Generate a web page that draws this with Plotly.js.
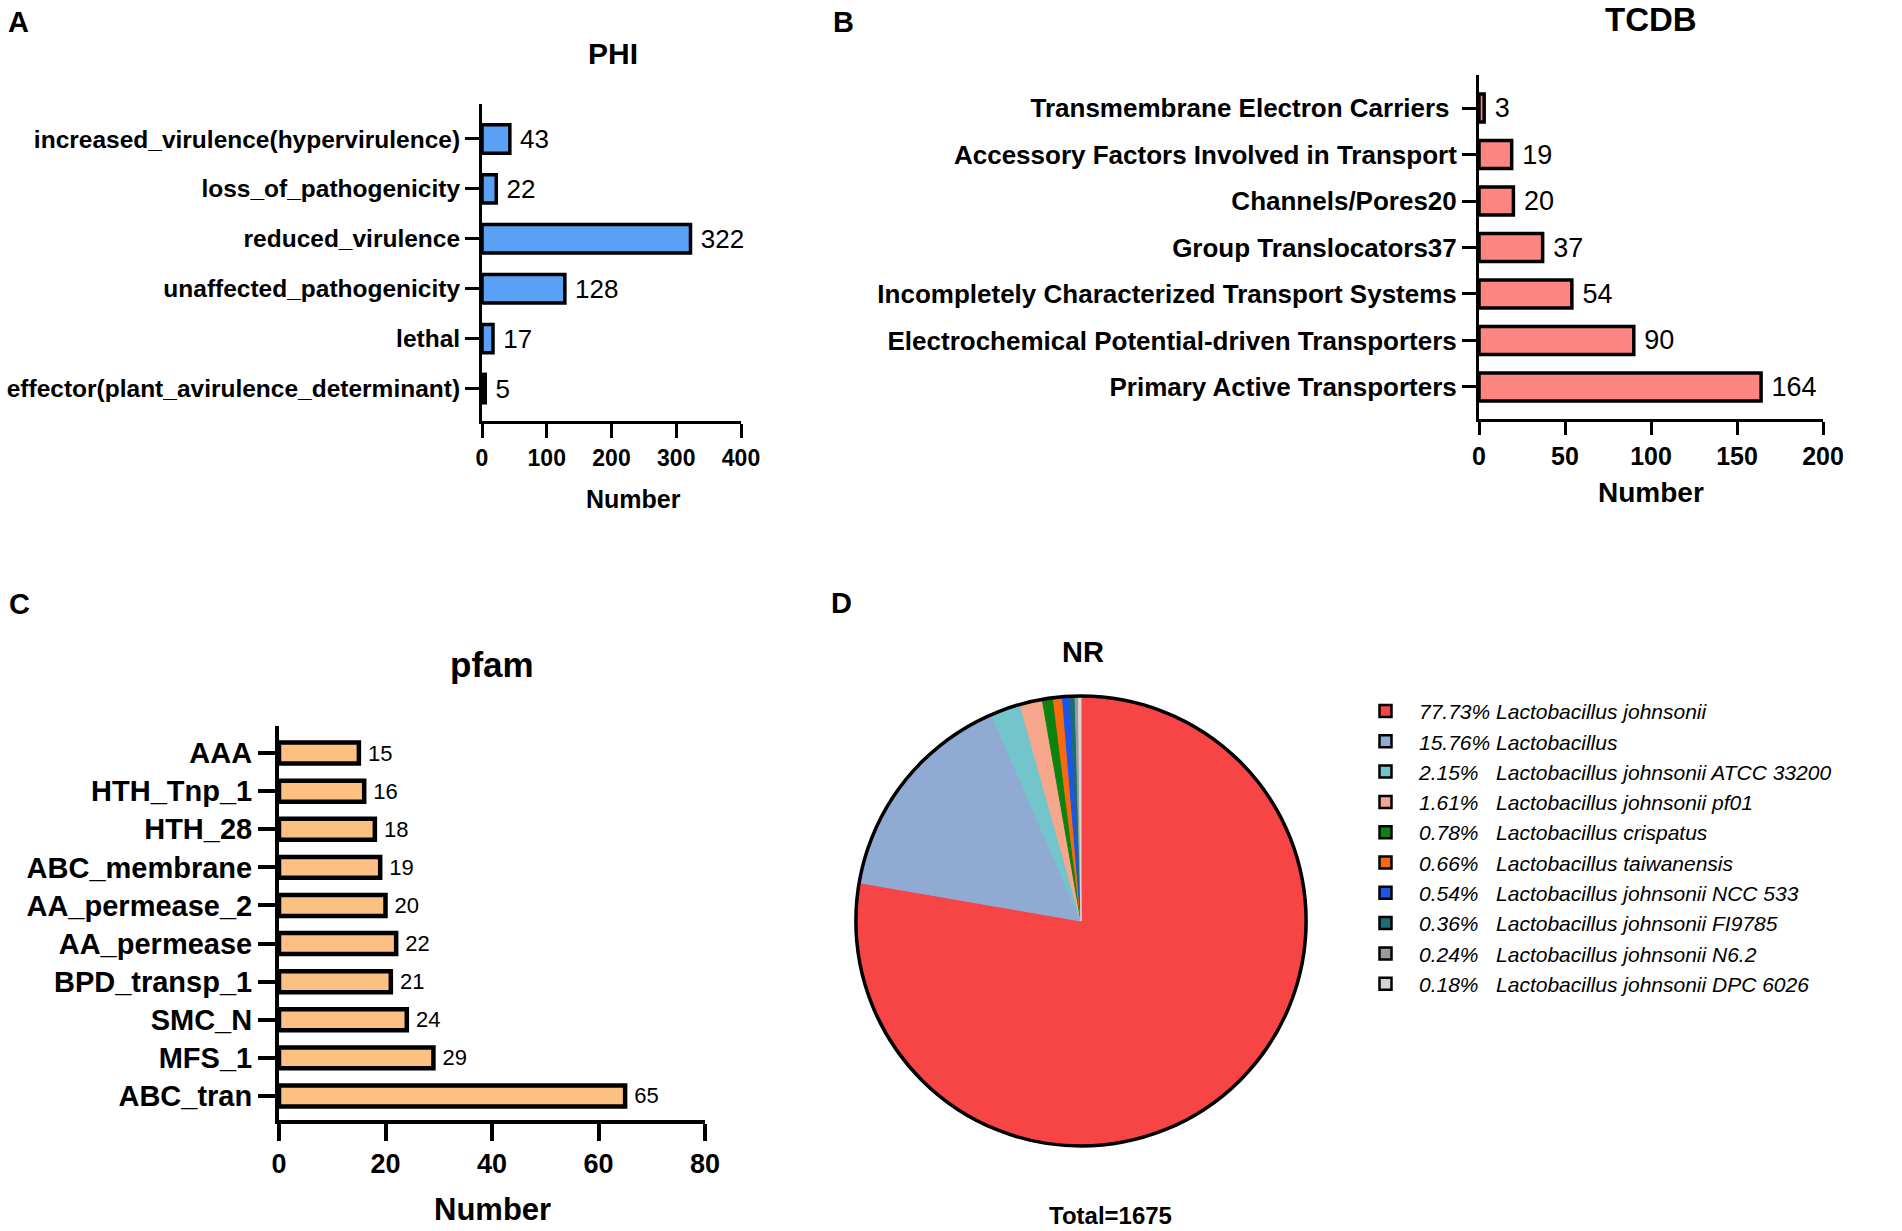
<!DOCTYPE html>
<html>
<head>
<meta charset="utf-8">
<script src="https://cdn.plot.ly/plotly-3.0.1.min.js"></script>
<style>
  html, body { margin: 0; padding: 0; background: #fff; }
  #chart { width: 1902px; height: 1231px; }
</style>
</head>
<body>
<div id="chart"></div>
<script>
// ---------------- DATA ----------------
const phiCategories = [
  "increased_virulence(hypervirulence)",
  "loss_of_pathogenicity",
  "reduced_virulence",
  "unaffected_pathogenicity",
  "lethal",
  "effector(plant_avirulence_determinant)"
];
const phiValues = [43, 22, 322, 128, 17, 5];

const tcdbCategories = [
  "Transmembrane Electron Carriers\u00a0",
  "Accessory Factors Involved in Transport",
  "Channels/Pores20",
  "Group Translocators37",
  "Incompletely Characterized Transport Systems",
  "Electrochemical Potential-driven Transporters",
  "Primary Active Transporters"
];
const tcdbValues = [3, 19, 20, 37, 54, 90, 164];

const pfamCategories = [
  "AAA", "HTH_Tnp_1", "HTH_28", "ABC_membrane", "AA_permease_2",
  "AA_permease", "BPD_transp_1", "SMC_N", "MFS_1", "ABC_tran"
];
const pfamValues = [15, 16, 18, 19, 20, 22, 21, 24, 29, 65];

const nrPercents = [77.73, 15.76, 2.15, 1.61, 0.78, 0.66, 0.54, 0.36, 0.24, 0.18];
const nrSpecies = [
  "Lactobacillus johnsonii",
  "Lactobacillus",
  "Lactobacillus johnsonii ATCC 33200",
  "Lactobacillus johnsonii pf01",
  "Lactobacillus crispatus",
  "Lactobacillus taiwanensis",
  "Lactobacillus johnsonii NCC 533",
  "Lactobacillus johnsonii FI9785",
  "Lactobacillus johnsonii N6.2",
  "Lactobacillus johnsonii DPC 6026"
];
const nrTotal = 1675;

// ---------------- STYLE ----------------
const W = 1902, H = 1231;
const px = v => v / W;
const py = v => 1 - v / H;
const FONT = '"Liberation Sans", Arial, Helvetica, sans-serif';
const nrColors = ['#F74545', '#8FAAD3', '#72C5CA', '#F6A68A', '#0E820E',
                  '#F76A10', '#1A56E8', '#1E6B74', '#9B9B9B', '#D5D5D5'];
const nrLabels = nrPercents.map((p, i) =>
  p.toFixed(2) + '%' + (p >= 10 ? '\u00a0' : '\u00a0\u00a0\u00a0') + nrSpecies[i]);

function barTrace(cats, vals, color, xa, ya, lw, w, fs) {
  return {
    type: 'bar', orientation: 'h', y: cats, x: vals,
    xaxis: xa, yaxis: ya, width: w,
    marker: { color: color, line: { color: '#000', width: lw } },
    texttemplate: '\u00a0%{x}', textposition: 'outside', constraintext: 'none',
    textfont: { family: FONT, size: fs, color: '#000' },
    cliponaxis: false, hoverinfo: 'x+y', showlegend: false
  };
}

function xAxis(dom, range, dtick, anchor, lw, tl, fs) {
  return {
    domain: dom, range: range, dtick: dtick, tick0: 0, anchor: anchor,
    showline: true, linecolor: '#000', linewidth: lw,
    ticks: 'outside', ticklen: tl, tickwidth: lw, tickcolor: '#000',
    showgrid: false, zeroline: false, fixedrange: true,
    tickfont: { family: FONT, size: fs, color: '#000', weight: 700 }
  };
}
function yAxis(dom, cats, range, anchor, lw, tl, fs) {
  return {
    domain: dom, type: 'category', categoryorder: 'array', categoryarray: cats,
    range: range, anchor: anchor,
    showline: true, linecolor: '#000', linewidth: lw,
    ticks: 'outside', ticklen: tl, tickwidth: lw, tickcolor: '#000',
    showgrid: false, zeroline: false, fixedrange: true,
    tickfont: { family: FONT, size: fs, color: '#000', weight: 700 }
  };
}

const pieCommon = {
  type: 'pie', sort: false, direction: 'clockwise', rotation: 0,
  textinfo: 'none', hoverinfo: 'label'
};
const pieDomain = { x: [px(1081 - 225), px(1081 + 225)], y: [py(1146), py(696)] };

const data = [
  barTrace(phiCategories, phiValues, '#5AA0F5', 'x', 'y', 3.5, 0.57, 26),
  barTrace(tcdbCategories, tcdbValues, '#FD8582', 'x2', 'y2', 3.5, 0.6, 27),
  barTrace(pfamCategories, pfamValues, '#FDC083', 'x3', 'y3', 4.5, 0.55, 22),
  // legend-owning pie (tiny, hidden under main pie) — gives bordered legend swatches
  Object.assign({}, pieCommon, {
    values: nrPercents, labels: nrLabels,
    marker: { colors: nrColors, line: { color: '#000', width: 2.5 } },
    domain: { x: [px(1080), px(1082)], y: [py(922), py(920)] },
    showlegend: true
  }),
  // main visible pie
  Object.assign({}, pieCommon, {
    values: nrPercents, labels: nrLabels,
    marker: { colors: nrColors, line: { color: nrColors, width: 1 } },
    domain: pieDomain, showlegend: false
  }),
  // outer ring
  Object.assign({}, pieCommon, {
    values: [nrTotal], labels: ['Total'],
    marker: { colors: ['rgba(0,0,0,0)'], line: { color: '#000', width: 3.5 } },
    domain: pieDomain, showlegend: false, hoverinfo: 'skip'
  })
];

function ann(text, x, y, size, bold, extra) {
  return Object.assign({
    text: text, x: px(x), y: py(y), xref: 'paper', yref: 'paper',
    xanchor: 'center', yanchor: 'middle', showarrow: false,
    font: { family: FONT, size: size, color: '#000', weight: bold ? 700 : 400 }
  }, extra || {});
}

const legendFont = 21;
const legendRowH = legendFont * 1.3 + 3;

const layout = {
  width: W, height: H,
  margin: { l: 0, r: 0, t: 0, b: 0 },
  paper_bgcolor: '#fff', plot_bgcolor: '#fff',
  xaxis:  xAxis([px(482), px(741)], [0, 400], 100, 'y', 3, 14, 23),
  yaxis:  yAxis([py(421), py(104)], phiCategories, [5.65, -0.70], 'x', 3, 14, 24.5),
  xaxis2: xAxis([px(1479), px(1823)], [0, 200], 50, 'y2', 3, 13, 25),
  yaxis2: yAxis([py(418.6), py(75)], tcdbCategories, [6.68, -0.71], 'x2', 3, 14, 26),
  xaxis3: xAxis([px(279), px(705)], [0, 80], 20, 'y3', 4, 17, 27),
  yaxis3: yAxis([py(1120), py(726)], pfamCategories, [9.63, -0.71], 'x3', 4, 17, 29),
  showlegend: true,
  legend: {
    x: px(1352), y: py(711 - legendRowH / 2 - 5), xanchor: 'left', yanchor: 'top',
    itemwidth: 57, traceorder: 'normal',
    font: { family: FONT, size: legendFont, color: '#000', style: 'italic' },
    bgcolor: 'rgba(0,0,0,0)', borderwidth: 0,
    itemclick: false, itemdoubleclick: false
  },
  annotations: [
    ann('A', 18.5, 22, 29, true),
    ann('B', 843, 22, 29, true),
    ann('C', 19.5, 604, 29, true),
    ann('D', 841, 603, 29, true),
    ann('PHI', 612.5, 54, 30, true),
    ann('TCDB', 1651, 19, 33, true),
    ann('pfam', 492, 665, 35, true),
    ann('NR', 1083, 652, 29, true),
    ann('Number', 633, 499, 25, true),
    ann('Number', 1651, 492.5, 28, true),
    ann('Number', 492, 1209, 31, true),
    ann('Total=' + nrTotal, 1110, 1215, 24, true)
  ]
};

Plotly.newPlot('chart', data, layout, { displayModeBar: false, responsive: false });
</script>
</body>
</html>
